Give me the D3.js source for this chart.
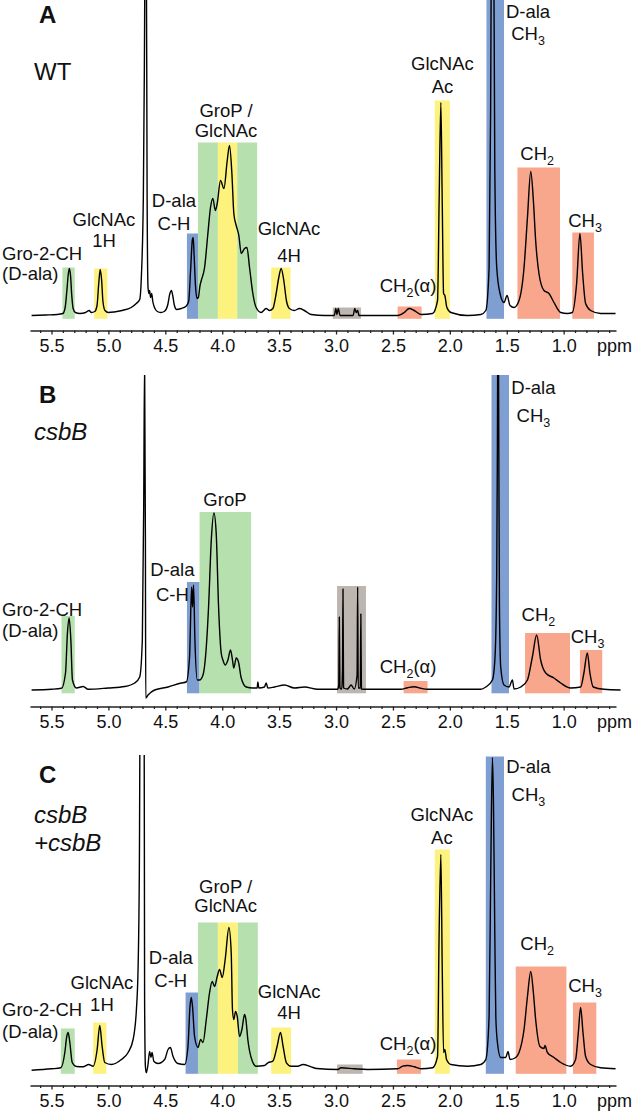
<!DOCTYPE html>
<html><head><meta charset="utf-8">
<script src="https://cdn.jsdelivr.net/npm/d3@7"></script>
<style>
body{margin:0;background:#fff}
svg{display:block}
text{font-family:"Liberation Sans",Arial,Helvetica,sans-serif;fill:#111}
</style>
</head><body>
<svg id="chart" width="633" height="1113"></svg>
<script>
// ---------------- DATA ----------------
const tickValues = [5.5, 5.0, 4.5, 4.0, 3.5, 3.0, 2.5, 2.0, 1.5, 1.0];
const tickLabels = ["5.5", "5.0", "4.5", "4.0", "3.5", "3.0", "2.5", "2.0", "1.5", "1.0"];
const unitLabel = "ppm";
const panelLetters = ["A", "B", "C"];
const strainNames = [["WT"], ["csbB"], ["csbB", "+csbB"]];

// spectra: [ppm, intensity (a.u.)]
const specA = [[5.675,0],[5.55,0.5],[5.45,1],[5.40,2],[5.38,8],[5.365,25],[5.352,42],[5.343,47],[5.333,40],[5.322,20],[5.31,7],[5.29,3],[5.25,2],[5.2,3],[5.17,5],[5.15,3],[5.12,4],[5.10,10],[5.085,32],[5.072,46],[5.06,36],[5.048,14],[5.03,5],[5.0,3],[4.95,3.5],[4.88,5],[4.80,8],[4.755,12],[4.725,16],[4.71,40],[4.693,120],[4.684,250],[4.676,400],[4.668,400],[4.66,120],[4.652,28],[4.645,22],[4.638,25],[4.63,18],[4.62,22],[4.61,14],[4.595,8],[4.57,4],[4.54,3],[4.51,4],[4.48,10],[4.46,22],[4.447,25],[4.435,20],[4.42,10],[4.40,6],[4.36,7],[4.32,9],[4.295,14],[4.278,45],[4.262,76],[4.255,78],[4.247,60],[4.235,30],[4.222,17],[4.21,18],[4.195,30],[4.184,35],[4.155,48],[4.126,82],[4.103,108],[4.082,117],[4.061,105],[4.044,112],[4.015,135],[3.985,127],[3.956,155],[3.936,170],[3.915,142],[3.898,102],[3.877,90],[3.854,80],[3.833,62],[3.804,67],[3.783,68],[3.76,48],[3.731,22],[3.702,8],[3.658,3],[3.614,7],[3.585,5],[3.555,7],[3.526,22],[3.503,38],[3.482,47],[3.459,35],[3.436,15],[3.41,7],[3.366,5],[3.322,7],[3.278,5],[3.219,1],[3.1,0],[3.015,0],[3.002,7],[2.992,1],[2.98,7],[2.965,0],[2.85,0],[2.835,7],[2.822,3],[2.81,5],[2.798,0],[2.6,0],[2.459,0],[2.401,3],[2.357,7],[2.313,5],[2.254,1],[2.152,2],[2.108,15],[2.094,115],[2.079,213],[2.067,115],[2.055,22],[2.044,20],[2.026,8],[1.991,3],[1.845,0],[1.728,1],[1.684,5],[1.655,48],[1.642,200],[1.632,420],[1.617,420],[1.605,148],[1.588,48],[1.559,22],[1.524,13],[1.497,20],[1.471,10],[1.436,8],[1.392,15],[1.348,48],[1.318,98],[1.289,144],[1.266,115],[1.246,75],[1.217,42],[1.173,25],[1.129,22],[1.085,13],[1.026,3],[0.967,2],[0.924,3],[0.886,32],[0.857,82],[0.833,42],[0.807,12],[0.763,5],[0.675,2],[0.544,2]];

const specB = [[5.675,0],[5.5,0.7],[5.412,1.7],[5.377,17],[5.36,57],[5.345,72],[5.33,50],[5.316,10],[5.281,2],[5.222,3.5],[5.178,0.7],[5.003,2],[4.857,3.5],[4.769,7],[4.725,13],[4.702,50],[4.69,183],[4.682,330],[4.675,150],[4.672,-8],[4.652,-5],[4.594,0],[4.476,3],[4.36,7],[4.316,8],[4.287,33],[4.269,103],[4.261,83],[4.252,105],[4.24,50],[4.219,10],[4.199,10],[4.169,15],[4.14,43],[4.12,83],[4.096,150],[4.073,177],[4.053,157],[4.032,83],[4.009,37],[3.994,30],[3.974,25],[3.95,30],[3.927,40],[3.91,30],[3.898,22],[3.877,32],[3.857,28],[3.833,12],[3.789,3],[3.731,2],[3.693,2],[3.687,8],[3.678,2],[3.629,3],[3.614,7],[3.599,2],[3.541,3],[3.453,5],[3.366,2],[3.278,3],[3.16,0.7],[2.985,0.7],[2.976,5],[2.971,73],[2.966,2],[2.95,1],[2.943,20],[2.939,101],[2.934,2],[2.9,1],[2.883,3],[2.868,5],[2.84,1],[2.815,15],[2.81,103],[2.805,2],[2.787,2],[2.782,76],[2.777,1],[2.722,0.7],[2.43,0.7],[2.371,2.3],[2.313,3.3],[2.254,1.7],[2.196,0.7],[1.728,0.7],[1.684,3],[1.626,10],[1.603,33],[1.588,117],[1.582,250],[1.576,420],[1.57,250],[1.564,83],[1.553,23],[1.524,5],[1.48,3],[1.45,10],[1.436,1],[1.377,3],[1.318,10],[1.275,33],[1.237,55],[1.202,30],[1.158,17],[1.085,12],[1.026,7],[0.939,2],[0.851,3],[0.822,17],[0.792,37],[0.769,17],[0.74,3],[0.646,0.7],[0.5,0]];

const specC = [[5.675,0.3],[5.5,1.7],[5.418,2.7],[5.383,18],[5.366,34],[5.354,38],[5.339,28],[5.318,8],[5.281,4],[5.222,3.7],[5.173,6],[5.134,4.3],[5.099,21],[5.076,45],[5.055,24],[5.032,8],[4.974,6],[4.886,11],[4.827,18],[4.783,31],[4.754,61],[4.739,104],[4.728,204],[4.719,420],[4.687,420],[4.682,71],[4.675,4],[4.667,-2.3],[4.652,6],[4.638,19],[4.626,13],[4.617,18],[4.6,9],[4.564,7],[4.506,11],[4.476,21],[4.456,23],[4.432,14],[4.389,7],[4.33,6],[4.301,24],[4.283,64],[4.272,73],[4.261,64],[4.243,34],[4.213,23],[4.19,31],[4.169,28],[4.14,51],[4.111,78],[4.088,89],[4.067,84],[4.044,94],[4.023,101],[4.0,93],[3.974,111],[3.941,143],[3.921,118],[3.91,61],[3.898,51],[3.883,59],[3.868,54],[3.848,34],[3.827,41],[3.804,56],[3.792,51],[3.775,31],[3.746,13],[3.702,4.3],[3.629,5],[3.599,7.7],[3.555,9.3],[3.518,24],[3.488,38],[3.465,24],[3.436,7.7],[3.395,4.3],[3.336,4.3],[3.292,6],[3.219,3.7],[3.17,2],[2.985,1],[2.956,2.7],[2.84,1.7],[2.722,1],[2.459,1.7],[2.415,4.3],[2.371,5],[2.313,3.7],[2.254,1.7],[2.152,2.7],[2.108,14],[2.094,138],[2.079,216],[2.067,104],[2.055,18],[2.044,21],[2.029,11],[1.991,6],[1.845,4.3],[1.728,6],[1.684,11],[1.655,54],[1.64,204],[1.626,313],[1.617,271],[1.605,138],[1.596,54],[1.582,28],[1.553,13],[1.509,13],[1.489,19],[1.471,11],[1.421,13],[1.392,18],[1.348,41],[1.318,74],[1.289,99],[1.266,78],[1.246,51],[1.208,24],[1.173,22],[1.164,25],[1.143,18],[1.085,13],[1.026,8],[0.939,4.3],[0.895,11],[0.871,38],[0.851,63],[0.83,38],[0.807,14],[0.763,6],[0.675,2.7],[0.544,1.7]];

// assigned regions: [from ppm, to ppm, top intensity, group]
const regionsA = [[5.404,5.296,48,"gro"],[5.125,5.009,47,"glc"],[4.31,4.208,82,"ala"],[4.213,4.038,173,"gro"],[4.038,3.868,173,"glc"],[3.868,3.693,173,"gro"],[3.57,3.40,48,"glc"],[3.029,2.781,8,"imp"],[2.459,2.248,9,"lip"],[2.132,2.0,215,"glc"],[1.678,1.524,330,"ala"],[1.406,1.032,148,"lip"],[0.924,0.734,83,"lip"]];
const regionsB = [[5.412,5.296,74,"gro"],[4.31,4.199,108,"ala"],[4.199,3.746,178,"gro"],[2.991,2.737,104,"imp"],[2.406,2.196,9,"lip"],[1.634,1.48,315,"ala"],[1.339,0.944,57,"lip"],[0.857,0.661,40,"lip"]];
const regionsC = [[5.418,5.296,42,"gro"],[5.134,5.018,48,"glc"],[4.322,4.213,78,"ala"],[4.213,4.038,148,"gro"],[4.038,3.862,148,"glc"],[3.862,3.687,148,"gro"],[3.57,3.395,43,"glc"],[2.991,2.766,6,"imp"],[2.465,2.254,11,"lip"],[2.132,2.0,221,"glc"],[1.684,1.524,314,"ala"],[1.421,0.976,104,"lip"],[0.918,0.713,68,"lip"]];

// peak label texts ("_n" = subscript)
const labelTextsA = [["Gro-2-CH","(D-ala)"],["GlcNAc","1H"],["D-ala","C-H"],["GroP /","GlcNAc"],["GlcNAc","4H"],["CH_2(α)"],["GlcNAc","Ac"],["D-ala","CH_3"],["CH_2"],["CH_3"]];
const labelTextsB = [["Gro-2-CH","(D-ala)"],["D-ala","C-H"],["GroP"],["CH_2(α)"],["D-ala","CH_3"],["CH_2"],["CH_3"]];
const labelTextsC = [["Gro-2-CH","(D-ala)"],["GlcNAc","1H"],["D-ala","C-H"],["GroP /","GlcNAc"],["GlcNAc","4H"],["CH_2(α)"],["GlcNAc","Ac"],["D-ala","CH_3"],["CH_2"],["CH_3"]];

// ---------------- LAYOUT / STYLE ----------------
const colors = {gro:"#b6e0ae", glc:"#fdf27e", ala:"#7f9fd2", lip:"#f8a68c", imp:"#bdb5b0"};
// label anchors in data space: [ppm, intensity of first baseline, line gap px, anchor]
const labelPosA = [[5.935,55.5,20,"start"],[5.039,89.5,21],[4.424,108.5,23],[3.967,198.5,20],[3.413,80.5,27],[2.367,23.5,0],[2.065,245.5,23],[1.313,297.5,22],[1.233,155.5,0],[0.812,88.5,0]];
const labelPosB = [[5.935,74,21,"start"],[4.438,114,25],[3.976,184,0],[2.367,16.7,0],[1.266,295.7,28],[1.222,69,0],[0.79,46.7,0]];
const labelPosC = [[5.935,54.5,22,"start"],[5.057,81.2,21.7],[4.452,106.2,23],[3.97,177.2,19],[3.412,72.8,21.7],[2.367,20.5,0],[2.07,249.5,23.3],[1.31,297.2,27.3],[1.233,120.5,0],[0.812,78.8,0]];

const panels = [
  {spec:specA, regions:regionsA, texts:labelTextsA, pos:labelPosA, base:315.5, axisY:330.5, clipTop:0,   letterY:22.7,  strainY:[80]},
  {spec:specB, regions:regionsB, texts:labelTextsB, pos:labelPosB, base:690,   axisY:706.5, clipTop:375, letterY:403.3, strainY:[440]},
  {spec:specC, regions:regionsC, texts:labelTextsC, pos:labelPosC, base:1070.5,axisY:1085.5,clipTop:755, letterY:783.3, strainY:[822.7,851]}
];

const svg = d3.select("#chart");
const x = d3.scaleLinear().domain([5.689, 0.540]).range([30, 616]);
const minorTicks = d3.range(56, 5, -1).map(v => v / 10).filter(v => Math.abs(v * 2 - Math.round(v * 2)) > 1e-6);

function addLabel(g, lines, px, py, gap, anchor, fs) {
  const t = g.append("text").attr("text-anchor", anchor || "middle").attr("font-size", fs);
  lines.forEach((ln, i) => {
    const parts = ln.split(/_(\d)/);
    parts.forEach((p, j) => {
      if (p === "") return;
      const ts = t.append("tspan");
      if (j === 0) ts.attr("x", px).attr("y", py + i * gap);
      if (j % 2 === 1) ts.attr("font-size", 12.5).attr("dy", 5);
      else if (j > 0) ts.attr("dy", -5);
      ts.text(p);
    });
  });
}

panels.forEach((P, k) => {
  const y = d3.scaleLinear().domain([0, 300]).range([P.base, P.base - 300]);
  const g = svg.append("g");
  const cid = "clip" + k;
  svg.append("clipPath").attr("id", cid).append("rect")
    .attr("x", 0).attr("y", P.clipTop).attr("width", 633).attr("height", P.base + 30 - P.clipTop);
  const plot = g.append("g").attr("clip-path", `url(#${cid})`);

  plot.selectAll("rect.reg").data(P.regions).join("rect").attr("class", "reg")
    .attr("x", d => x(d[0])).attr("width", d => x(d[1]) - x(d[0]))
    .attr("y", d => y(d[2])).attr("height", d => y(-3.3) - y(d[2]))
    .attr("fill", d => colors[d[3]]);

  const line = d3.line().x(d => x(d[0])).y(d => y(d[1])).curve(d3.curveMonotoneX);
  plot.append("path").datum(P.spec).attr("d", line)
    .attr("fill", "none").attr("stroke", "#000").attr("stroke-width", 1.4).attr("stroke-linejoin", "round");

  // axes
  const ax = g.append("g").attr("transform", `translate(0,${P.axisY})`);
  ax.call(d3.axisBottom(x).tickValues(tickValues).tickSize(4).tickSizeOuter(0)
      .tickFormat((d, i) => tickLabels[i]));
  const axm = g.append("g").attr("transform", `translate(0,${P.axisY})`);
  axm.call(d3.axisBottom(x).tickValues(minorTicks).tickSize(2.5).tickSizeOuter(0).tickFormat(""));
  axm.select(".domain").remove();
  [ax, axm].forEach(a => {
    a.selectAll("path,line").attr("stroke", "#222").attr("stroke-width", 1.3);
  });
  ax.selectAll("text").attr("y", 21).attr("dy", null).attr("font-size", 18)
    .attr("fill", "#111").attr("font-family", '"Liberation Sans",Arial,sans-serif');
  g.append("text").attr("x", 597).attr("y", P.axisY + 21).attr("font-size", 18).text(unitLabel);

  // panel letter and strain
  g.append("text").attr("x", 39).attr("y", P.letterY).attr("font-size", 24).attr("font-weight", "bold").text(panelLetters[k]);
  strainNames[k].forEach((s, i) => {
    g.append("text").attr("x", 34).attr("y", P.strainY[i]).attr("font-size", 24)
      .attr("font-style", k > 0 ? "italic" : null).text(s);
  });

  // peak labels
  P.texts.forEach((lines, i) => {
    const p = P.pos[i];
    addLabel(g, lines, x(p[0]), y(p[1]), p[2], p[3], 18.5);
  });
});
</script>
</body></html>
